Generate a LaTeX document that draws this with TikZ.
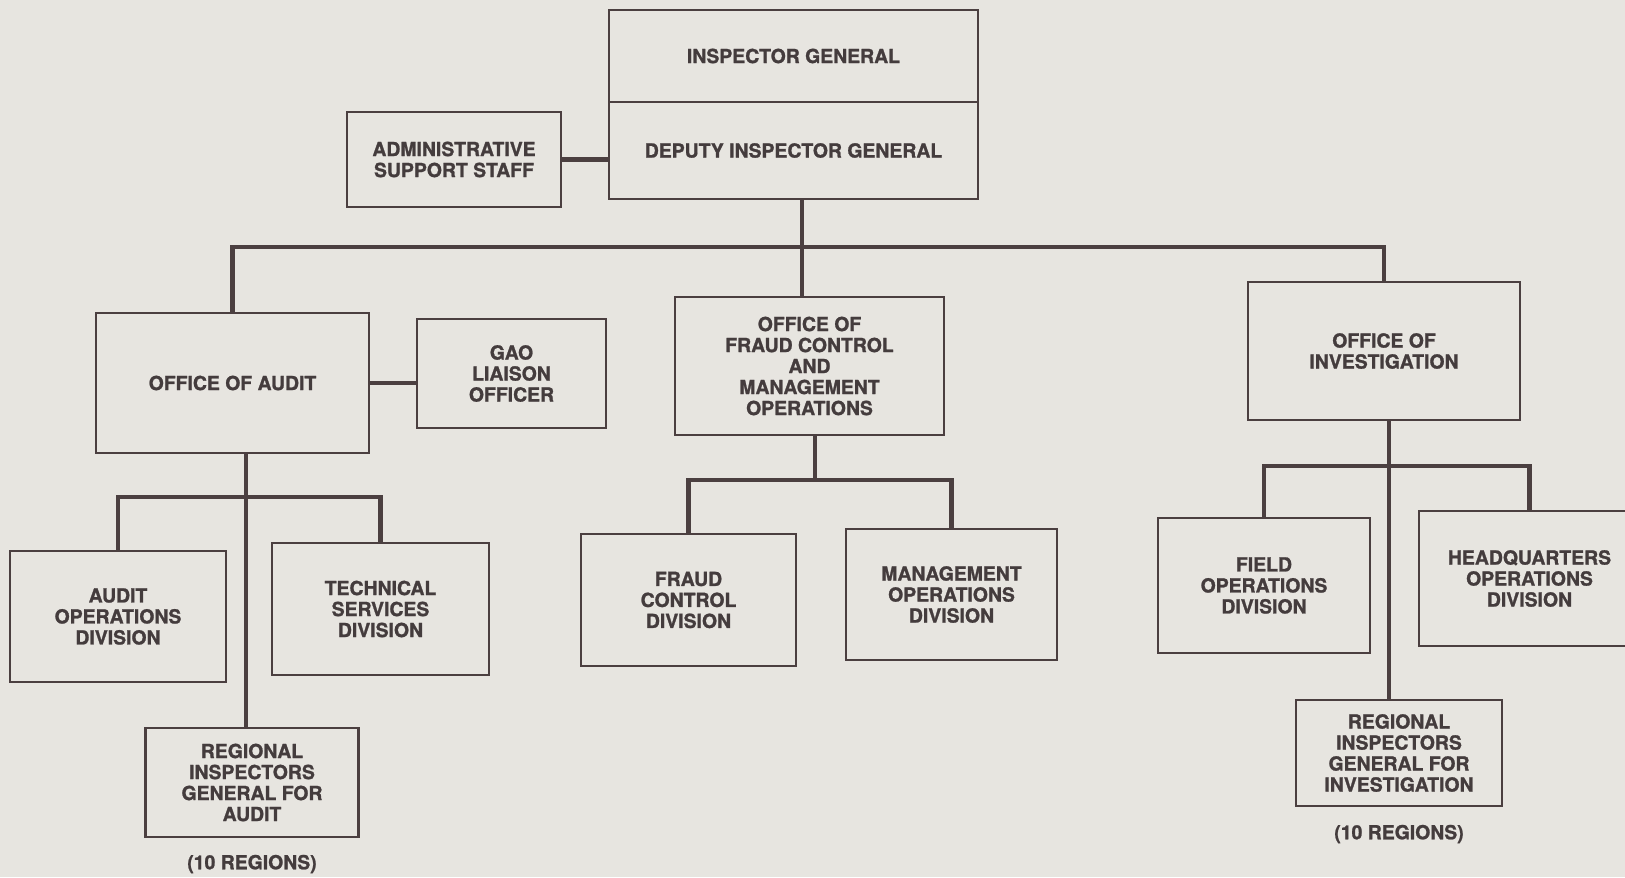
\documentclass[tikz,border=0pt]{standalone}
\usepackage{fontspec}
\setmainfont{TeX Gyre Heros}[BoldFeatures={FakeBold=1.2}]
\definecolor{bg}{HTML}{E7E5E0}
\definecolor{ink}{HTML}{4B3F40}
\definecolor{txt}{HTML}{443C3D}
\begin{document}
\begin{tikzpicture}[x=0.5pt,y=-0.5pt,
  box/.style={draw=ink,line width=1.4pt,align=center,text=txt,
    font=\bfseries\fontsize{9.7}{10.5}\selectfont,inner sep=0pt},
  sz/.style 2 args={minimum width={#1*0.5pt},minimum height={#2*0.5pt}},
  lbl/.style={text=txt,font=\bfseries\fontsize{9.7}{10.5}\selectfont,inner sep=0pt},
  link/.style={draw=ink,line width=2.2pt}]
\fill[bg] (0,0) rectangle (1625,877);
\useasboundingbox (0,0) rectangle (1625,877);

% top
\node[box,sz={369}{92}] (ig) at (793.5,56) {INSPECTOR GENERAL};
\node[box,sz={369}{97}] (dig) at (793.5,150.5) {DEPUTY INSPECTOR GENERAL};
\node[box,sz={214}{95}] (adm) at (454,159.5) {ADMINISTRATIVE\\SUPPORT STAFF};

% second level
\node[box,sz={273}{140}] (oa) at (232.5,383) {OFFICE OF AUDIT};
\node[box,sz={189}{109}] (gao) at (511.5,373.5) {GAO\\LIAISON\\OFFICER};
\node[box,sz={269}{138}] (ofc) at (809.5,366) {OFFICE OF\\FRAUD CONTROL\\AND\\MANAGEMENT\\OPERATIONS};
\node[box,sz={272}{138}] (oi) at (1384,351) {OFFICE OF\\INVESTIGATION};

% third level
\node[box,sz={216}{131}] (aod) at (118,616.5) {AUDIT\\OPERATIONS\\DIVISION};
\node[box,sz={217}{132}] (tsd) at (380.5,609) {TECHNICAL\\SERVICES\\DIVISION};
\node[box,sz={213}{109}] (rga) at (252,782.5) {REGIONAL\\INSPECTORS\\GENERAL FOR\\AUDIT};
\node[lbl] (rega) at (252,864) {(10 REGIONS)};

\node[box,sz={215}{132}] (fcd) at (688.5,600) {FRAUD\\CONTROL\\DIVISION};
\node[box,sz={211}{131}] (mod) at (951.5,594.5) {MANAGEMENT\\OPERATIONS\\DIVISION};

\node[box,sz={212}{135}] (fod) at (1264,585.5) {FIELD\\OPERATIONS\\DIVISION};
\node[box,sz={221}{135}] (hqd) at (1529.5,578.5) {HEADQUARTERS\\OPERATIONS\\DIVISION};
\node[box,sz={206}{106}] (rgi) at (1399,753) {REGIONAL\\INSPECTORS\\GENERAL FOR\\INVESTIGATION};
\node[lbl] (regi) at (1399,834) {(10 REGIONS)};

% connectors
\coordinate (bus) at (802,247);
\coordinate (ab) at (246,497);
\coordinate (fb) at (815,480);
\coordinate (ib) at (1389,466);

\draw[link] (adm.east) -- (adm.east -| dig.west);
\draw[link] (dig.south -| bus) -- (bus);
\draw[link] (oa.north) |- (bus) -| (oi.north);
\draw[link] (bus) -- (ofc.north -| bus);
\draw[link] (oa.east) -- (oa.east -| gao.west);

\draw[link] (oa.south -| ab) -- (rga.north -| ab);
\draw[link] (aod.north) |- (ab) -| (tsd.north);

\draw[link] (ofc.south -| fb) -- (fb);
\draw[link] (fcd.north) |- (fb) -| (mod.north);

\draw[link] (oi.south -| ib) -- (rgi.north -| ib);
\draw[link] (fod.north) |- (ib) -| (hqd.north);
\end{tikzpicture}
\end{document}
